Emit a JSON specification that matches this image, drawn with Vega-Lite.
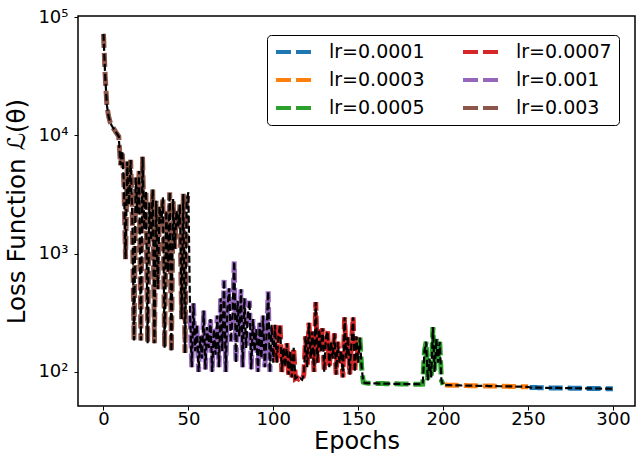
{
  "$schema": "https://vega.github.io/schema/vega-lite/v6.json",
  "width": 557,
  "height": 390,
  "autosize": {"type": "none"},
  "padding": {"left": 78, "top": 16, "right": 1, "bottom": 47},
  "background": "white",
  "data": {"values": [
    {"e":0,"v":72000,"s":"lr=0.003"},{"e":1,"v":32000,"s":"lr=0.003"},{"e":2,"v":18000,"s":"lr=0.003"},{"e":3,"v":14500,"s":"lr=0.003"},{"e":4,"v":12800,"s":"lr=0.003"},
    {"e":5,"v":12000,"s":"lr=0.003"},{"e":6,"v":11400,"s":"lr=0.003"},{"e":7,"v":10800,"s":"lr=0.003"},{"e":8,"v":10300,"s":"lr=0.003"},{"e":9,"v":9800,"s":"lr=0.003"},
    {"e":10,"v":5600,"s":"lr=0.003"},{"e":11,"v":7400,"s":"lr=0.003"},{"e":12,"v":4000,"s":"lr=0.003"},{"e":13,"v":900,"s":"lr=0.003"},{"e":14,"v":6000,"s":"lr=0.003"},
    {"e":15,"v":2600,"s":"lr=0.003"},{"e":16,"v":6200,"s":"lr=0.003"},{"e":17,"v":2000,"s":"lr=0.003"},{"e":18,"v":185,"s":"lr=0.003"},{"e":19,"v":4400,"s":"lr=0.003"},
    {"e":20,"v":2200,"s":"lr=0.003"},{"e":21,"v":5000,"s":"lr=0.003"},{"e":22,"v":185,"s":"lr=0.003"},{"e":23,"v":6600,"s":"lr=0.003"},{"e":24,"v":1600,"s":"lr=0.003"},
    {"e":25,"v":3400,"s":"lr=0.003"},{"e":26,"v":175,"s":"lr=0.003"},{"e":27,"v":2700,"s":"lr=0.003"},{"e":28,"v":1300,"s":"lr=0.003"},{"e":29,"v":3500,"s":"lr=0.003"},
    {"e":30,"v":175,"s":"lr=0.003"},{"e":31,"v":2800,"s":"lr=0.003"},{"e":32,"v":500,"s":"lr=0.003"},{"e":33,"v":2500,"s":"lr=0.003"},{"e":34,"v":1800,"s":"lr=0.003"},
    {"e":35,"v":3000,"s":"lr=0.003"},{"e":36,"v":160,"s":"lr=0.003"},{"e":37,"v":2300,"s":"lr=0.003"},{"e":38,"v":700,"s":"lr=0.003"},{"e":39,"v":3300,"s":"lr=0.003"},
    {"e":40,"v":148,"s":"lr=0.003"},{"e":41,"v":2900,"s":"lr=0.003"},{"e":42,"v":1100,"s":"lr=0.003"},{"e":43,"v":2300,"s":"lr=0.003"},{"e":44,"v":1700,"s":"lr=0.003"},
    {"e":45,"v":2600,"s":"lr=0.003"},{"e":46,"v":280,"s":"lr=0.003"},{"e":47,"v":3200,"s":"lr=0.003"},{"e":48,"v":145,"s":"lr=0.003"},{"e":49,"v":2800,"s":"lr=0.003"},
    {"e":50,"v":3300,"s":"lr=0.003"},
    {"e":51,"v":300,"s":"lr=0.001"},{"e":52,"v":110,"s":"lr=0.001"},{"e":53,"v":380,"s":"lr=0.001"},{"e":54,"v":150,"s":"lr=0.001"},{"e":55,"v":250,"s":"lr=0.001"},
    {"e":56,"v":100,"s":"lr=0.001"},{"e":57,"v":200,"s":"lr=0.001"},{"e":58,"v":130,"s":"lr=0.001"},{"e":59,"v":330,"s":"lr=0.001"},{"e":60,"v":105,"s":"lr=0.001"},
    {"e":61,"v":240,"s":"lr=0.001"},{"e":62,"v":160,"s":"lr=0.001"},{"e":63,"v":280,"s":"lr=0.001"},{"e":64,"v":100,"s":"lr=0.001"},{"e":65,"v":230,"s":"lr=0.001"},
    {"e":66,"v":140,"s":"lr=0.001"},{"e":67,"v":300,"s":"lr=0.001"},{"e":68,"v":110,"s":"lr=0.001"},{"e":69,"v":420,"s":"lr=0.001"},{"e":70,"v":150,"s":"lr=0.001"},
    {"e":71,"v":600,"s":"lr=0.001"},{"e":72,"v":100,"s":"lr=0.001"},{"e":73,"v":350,"s":"lr=0.001"},{"e":74,"v":510,"s":"lr=0.001"},{"e":75,"v":180,"s":"lr=0.001"},
    {"e":76,"v":300,"s":"lr=0.001"},{"e":77,"v":860,"s":"lr=0.001"},{"e":78,"v":120,"s":"lr=0.001"},{"e":79,"v":400,"s":"lr=0.001"},{"e":80,"v":200,"s":"lr=0.001"},
    {"e":81,"v":500,"s":"lr=0.001"},{"e":82,"v":110,"s":"lr=0.001"},{"e":83,"v":420,"s":"lr=0.001"},{"e":84,"v":160,"s":"lr=0.001"},{"e":85,"v":300,"s":"lr=0.001"},
    {"e":86,"v":400,"s":"lr=0.001"},{"e":87,"v":105,"s":"lr=0.001"},{"e":88,"v":280,"s":"lr=0.001"},{"e":89,"v":150,"s":"lr=0.001"},{"e":90,"v":230,"s":"lr=0.001"},
    {"e":91,"v":100,"s":"lr=0.001"},{"e":92,"v":260,"s":"lr=0.001"},{"e":93,"v":130,"s":"lr=0.001"},{"e":94,"v":300,"s":"lr=0.001"},{"e":95,"v":110,"s":"lr=0.001"},
    {"e":96,"v":200,"s":"lr=0.001"},{"e":97,"v":480,"s":"lr=0.001"},{"e":98,"v":100,"s":"lr=0.001"},{"e":99,"v":250,"s":"lr=0.001"},{"e":100,"v":120,"s":"lr=0.001"},
    {"e":101,"v":250,"s":"lr=0.0007"},{"e":102,"v":120,"s":"lr=0.0007"},{"e":103,"v":200,"s":"lr=0.0007"},{"e":104,"v":250,"s":"lr=0.0007"},{"e":105,"v":100,"s":"lr=0.0007"},
    {"e":106,"v":160,"s":"lr=0.0007"},{"e":107,"v":110,"s":"lr=0.0007"},{"e":108,"v":175,"s":"lr=0.0007"},{"e":109,"v":95,"s":"lr=0.0007"},{"e":110,"v":150,"s":"lr=0.0007"},
    {"e":111,"v":90,"s":"lr=0.0007"},{"e":112,"v":160,"s":"lr=0.0007"},{"e":113,"v":88,"s":"lr=0.0007"},{"e":114,"v":90,"s":"lr=0.0007"},{"e":115,"v":87,"s":"lr=0.0007"},
    {"e":116,"v":88,"s":"lr=0.0007"},{"e":117,"v":86,"s":"lr=0.0007"},{"e":118,"v":95,"s":"lr=0.0007"},{"e":119,"v":200,"s":"lr=0.0007"},{"e":120,"v":110,"s":"lr=0.0007"},
    {"e":121,"v":260,"s":"lr=0.0007"},{"e":122,"v":130,"s":"lr=0.0007"},{"e":123,"v":220,"s":"lr=0.0007"},{"e":124,"v":100,"s":"lr=0.0007"},{"e":125,"v":390,"s":"lr=0.0007"},
    {"e":126,"v":120,"s":"lr=0.0007"},{"e":127,"v":230,"s":"lr=0.0007"},{"e":128,"v":150,"s":"lr=0.0007"},{"e":129,"v":234,"s":"lr=0.0007"},{"e":130,"v":100,"s":"lr=0.0007"},
    {"e":131,"v":200,"s":"lr=0.0007"},{"e":132,"v":220,"s":"lr=0.0007"},{"e":133,"v":110,"s":"lr=0.0007"},{"e":134,"v":180,"s":"lr=0.0007"},{"e":135,"v":130,"s":"lr=0.0007"},
    {"e":136,"v":212,"s":"lr=0.0007"},{"e":137,"v":95,"s":"lr=0.0007"},{"e":138,"v":180,"s":"lr=0.0007"},{"e":139,"v":120,"s":"lr=0.0007"},{"e":140,"v":150,"s":"lr=0.0007"},
    {"e":141,"v":90,"s":"lr=0.0007"},{"e":142,"v":290,"s":"lr=0.0007"},{"e":143,"v":130,"s":"lr=0.0007"},{"e":144,"v":200,"s":"lr=0.0007"},{"e":145,"v":95,"s":"lr=0.0007"},
    {"e":146,"v":170,"s":"lr=0.0007"},{"e":147,"v":290,"s":"lr=0.0007"},{"e":148,"v":100,"s":"lr=0.0007"},{"e":149,"v":200,"s":"lr=0.0007"},{"e":150,"v":120,"s":"lr=0.0007"},
    {"e":151,"v":195,"s":"lr=0.0005"},{"e":152,"v":110,"s":"lr=0.0005"},{"e":153,"v":82,"s":"lr=0.0005"},{"e":154,"v":81,"s":"lr=0.0005"},{"e":155,"v":80.6,"s":"lr=0.0005"},
    {"e":156,"v":80.4,"s":"lr=0.0005"},{"e":157,"v":80.3,"s":"lr=0.0005"},{"e":158,"v":80.2,"s":"lr=0.0005"},{"e":159,"v":80.1,"s":"lr=0.0005"},{"e":160,"v":80,"s":"lr=0.0005"},
    {"e":161,"v":80,"s":"lr=0.0005"},{"e":162,"v":79.9,"s":"lr=0.0005"},{"e":163,"v":79.9,"s":"lr=0.0005"},{"e":164,"v":79.8,"s":"lr=0.0005"},{"e":165,"v":79.8,"s":"lr=0.0005"},
    {"e":166,"v":79.7,"s":"lr=0.0005"},{"e":167,"v":79.7,"s":"lr=0.0005"},{"e":168,"v":79.6,"s":"lr=0.0005"},{"e":169,"v":79.6,"s":"lr=0.0005"},{"e":170,"v":79.5,"s":"lr=0.0005"},
    {"e":171,"v":79.5,"s":"lr=0.0005"},{"e":172,"v":79.4,"s":"lr=0.0005"},{"e":173,"v":79.4,"s":"lr=0.0005"},{"e":174,"v":79.3,"s":"lr=0.0005"},{"e":175,"v":79.3,"s":"lr=0.0005"},
    {"e":176,"v":79.2,"s":"lr=0.0005"},{"e":177,"v":79.2,"s":"lr=0.0005"},{"e":178,"v":79.1,"s":"lr=0.0005"},{"e":179,"v":79.1,"s":"lr=0.0005"},{"e":180,"v":79,"s":"lr=0.0005"},
    {"e":181,"v":79,"s":"lr=0.0005"},{"e":182,"v":79,"s":"lr=0.0005"},{"e":183,"v":78.9,"s":"lr=0.0005"},{"e":184,"v":78.9,"s":"lr=0.0005"},{"e":185,"v":78.9,"s":"lr=0.0005"},
    {"e":186,"v":78.8,"s":"lr=0.0005"},{"e":187,"v":78.8,"s":"lr=0.0005"},{"e":188,"v":79,"s":"lr=0.0005"},{"e":189,"v":150,"s":"lr=0.0005"},{"e":190,"v":180,"s":"lr=0.0005"},
    {"e":191,"v":85,"s":"lr=0.0005"},{"e":192,"v":130,"s":"lr=0.0005"},{"e":193,"v":90,"s":"lr=0.0005"},{"e":194,"v":240,"s":"lr=0.0005"},{"e":195,"v":100,"s":"lr=0.0005"},
    {"e":196,"v":190,"s":"lr=0.0005"},{"e":197,"v":120,"s":"lr=0.0005"},{"e":198,"v":180,"s":"lr=0.0005"},{"e":199,"v":85,"s":"lr=0.0005"},{"e":200,"v":78,"s":"lr=0.0005"},
    {"e":201,"v":77.6,"s":"lr=0.0003"},{"e":202,"v":77.5,"s":"lr=0.0003"},{"e":203,"v":77.4,"s":"lr=0.0003"},{"e":204,"v":77.4,"s":"lr=0.0003"},{"e":205,"v":77.3,"s":"lr=0.0003"},
    {"e":206,"v":77.2,"s":"lr=0.0003"},{"e":207,"v":77.2,"s":"lr=0.0003"},{"e":208,"v":77.1,"s":"lr=0.0003"},{"e":209,"v":77,"s":"lr=0.0003"},{"e":210,"v":77,"s":"lr=0.0003"},
    {"e":211,"v":76.9,"s":"lr=0.0003"},{"e":212,"v":76.9,"s":"lr=0.0003"},{"e":213,"v":76.8,"s":"lr=0.0003"},{"e":214,"v":76.8,"s":"lr=0.0003"},{"e":215,"v":76.7,"s":"lr=0.0003"},
    {"e":216,"v":76.7,"s":"lr=0.0003"},{"e":217,"v":76.6,"s":"lr=0.0003"},{"e":218,"v":76.6,"s":"lr=0.0003"},{"e":219,"v":76.5,"s":"lr=0.0003"},{"e":220,"v":76.5,"s":"lr=0.0003"},
    {"e":221,"v":76.4,"s":"lr=0.0003"},{"e":222,"v":76.4,"s":"lr=0.0003"},{"e":223,"v":76.3,"s":"lr=0.0003"},{"e":224,"v":76.3,"s":"lr=0.0003"},{"e":225,"v":76.2,"s":"lr=0.0003"},
    {"e":226,"v":76.2,"s":"lr=0.0003"},{"e":227,"v":76.1,"s":"lr=0.0003"},{"e":228,"v":76.1,"s":"lr=0.0003"},{"e":229,"v":76,"s":"lr=0.0003"},{"e":230,"v":76,"s":"lr=0.0003"},
    {"e":231,"v":75.9,"s":"lr=0.0003"},{"e":232,"v":75.9,"s":"lr=0.0003"},{"e":233,"v":75.8,"s":"lr=0.0003"},{"e":234,"v":75.8,"s":"lr=0.0003"},{"e":235,"v":75.7,"s":"lr=0.0003"},
    {"e":236,"v":75.7,"s":"lr=0.0003"},{"e":237,"v":75.6,"s":"lr=0.0003"},{"e":238,"v":75.6,"s":"lr=0.0003"},{"e":239,"v":75.5,"s":"lr=0.0003"},{"e":240,"v":75.5,"s":"lr=0.0003"},
    {"e":241,"v":75.4,"s":"lr=0.0003"},{"e":242,"v":75.4,"s":"lr=0.0003"},{"e":243,"v":75.3,"s":"lr=0.0003"},{"e":244,"v":75.3,"s":"lr=0.0003"},{"e":245,"v":75.2,"s":"lr=0.0003"},
    {"e":246,"v":75.2,"s":"lr=0.0003"},{"e":247,"v":75.1,"s":"lr=0.0003"},{"e":248,"v":75.1,"s":"lr=0.0003"},{"e":249,"v":75,"s":"lr=0.0003"},{"e":250,"v":75,"s":"lr=0.0003"},
    {"e":251,"v":74,"s":"lr=0.0001"},{"e":252,"v":73.9,"s":"lr=0.0001"},{"e":253,"v":73.9,"s":"lr=0.0001"},{"e":254,"v":73.8,"s":"lr=0.0001"},{"e":255,"v":73.8,"s":"lr=0.0001"},
    {"e":256,"v":73.7,"s":"lr=0.0001"},{"e":257,"v":73.7,"s":"lr=0.0001"},{"e":258,"v":73.6,"s":"lr=0.0001"},{"e":259,"v":73.6,"s":"lr=0.0001"},{"e":260,"v":73.5,"s":"lr=0.0001"},
    {"e":261,"v":73.5,"s":"lr=0.0001"},{"e":262,"v":73.5,"s":"lr=0.0001"},{"e":263,"v":73.4,"s":"lr=0.0001"},{"e":264,"v":73.4,"s":"lr=0.0001"},{"e":265,"v":73.4,"s":"lr=0.0001"},
    {"e":266,"v":73.3,"s":"lr=0.0001"},{"e":267,"v":73.3,"s":"lr=0.0001"},{"e":268,"v":73.3,"s":"lr=0.0001"},{"e":269,"v":73.2,"s":"lr=0.0001"},{"e":270,"v":73.2,"s":"lr=0.0001"},
    {"e":271,"v":73.2,"s":"lr=0.0001"},{"e":272,"v":73.1,"s":"lr=0.0001"},{"e":273,"v":73.1,"s":"lr=0.0001"},{"e":274,"v":73.1,"s":"lr=0.0001"},{"e":275,"v":73,"s":"lr=0.0001"},
    {"e":276,"v":73,"s":"lr=0.0001"},{"e":277,"v":73,"s":"lr=0.0001"},{"e":278,"v":72.9,"s":"lr=0.0001"},{"e":279,"v":72.9,"s":"lr=0.0001"},{"e":280,"v":72.9,"s":"lr=0.0001"},
    {"e":281,"v":72.8,"s":"lr=0.0001"},{"e":282,"v":72.8,"s":"lr=0.0001"},{"e":283,"v":72.8,"s":"lr=0.0001"},{"e":284,"v":72.7,"s":"lr=0.0001"},{"e":285,"v":72.7,"s":"lr=0.0001"},
    {"e":286,"v":72.7,"s":"lr=0.0001"},{"e":287,"v":72.6,"s":"lr=0.0001"},{"e":288,"v":72.6,"s":"lr=0.0001"},{"e":289,"v":72.6,"s":"lr=0.0001"},{"e":290,"v":72.5,"s":"lr=0.0001"},
    {"e":291,"v":72.5,"s":"lr=0.0001"},{"e":292,"v":72.5,"s":"lr=0.0001"},{"e":293,"v":72.4,"s":"lr=0.0001"},{"e":294,"v":72.4,"s":"lr=0.0001"},{"e":295,"v":72.4,"s":"lr=0.0001"},
    {"e":296,"v":72.3,"s":"lr=0.0001"},{"e":297,"v":72.3,"s":"lr=0.0001"},{"e":298,"v":72.3,"s":"lr=0.0001"},{"e":299,"v":72.2,"s":"lr=0.0001"},{"e":300,"v":72.2,"s":"lr=0.0001"}
  ]},
  "encoding": {
    "x": {"field": "e", "type": "quantitative",
      "scale": {"domain": [-15, 313], "nice": false, "zero": false},
      "axis": {"values": [0, 50, 100, 150, 200, 250, 300], "title": "Epochs", "labelPadding": 0, "titlePadding": 1, "titleFontSize": 24}},
    "y": {"field": "v", "type": "quantitative",
      "scale": {"type": "log", "domain": [51.6, 102000], "nice": false},
      "axis": {"values": [100, 1000, 10000, 100000], "title": "Loss Function ℒ(θ)",
        "labelExpr": "'10' + ['⁰','¹','²','³','⁴','⁵'][round(log(datum.value)/LN10)]",
        "labelPadding": 6, "titlePadding": 8, "titleFontSize": 24.5}},
    "order": {"field": "e", "type": "quantitative"}
  },
  "layer": [
    {
      "mark": {"type": "line", "strokeWidth": 5, "strokeDash": [14, 5], "clip": true},
      "encoding": {
        "color": {"field": "s", "type": "nominal",
          "scale": {"domain": ["lr=0.0001", "lr=0.0003", "lr=0.0005", "lr=0.0007", "lr=0.001", "lr=0.003"],
                    "range": ["#1f77b4", "#ff7f0e", "#2ca02c", "#d62728", "#9467bd", "#8c564b"]},
          "legend": {"orient": "none", "legendX": 189, "legendY": 19, "columns": 2, "title": null,
            "strokeColor": "black", "fillColor": "white", "cornerRadius": 4, "padding": 7,
            "symbolType": "stroke", "symbolStrokeWidth": 4, "symbolSize": 1225, "symbolDash": [15, 5],
            "clipHeight": 20,
            "labelFontSize": 19, "labelOffset": 16, "rowPadding": 8, "columnPadding": 36, "labelColor": "black"}}
      }
    },
    {
      "mark": {"type": "line", "color": "black", "strokeWidth": 2.2, "strokeDash": [7, 3], "clip": true},
      "encoding": {}
    }
  ],
  "config": {
    "font": "DejaVu Sans",
    "view": {"stroke": "black", "strokeWidth": 1.5},
    "axis": {"domain": false, "grid": false, "ticks": true, "tickColor": "black", "tickSize": 4, "tickWidth": 1,
      "labelColor": "black", "titleColor": "black", "labelFontSize": 18, "titleFontSize": 24, "titleFontWeight": "normal", "labelFont": "DejaVu Sans", "titleFont": "DejaVu Sans"},
    "legend": {"labelFont": "DejaVu Sans"}
  }
}
